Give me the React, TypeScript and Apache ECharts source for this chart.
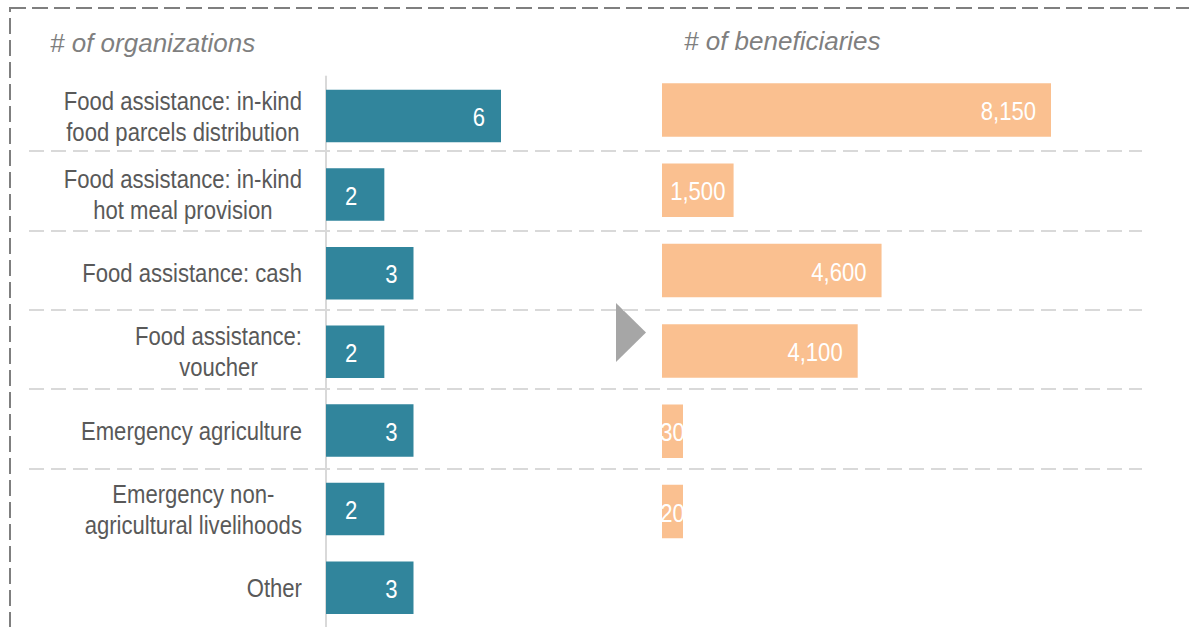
import { useEffect, useRef } from 'react';
import * as echarts from 'echarts';

const categories = [
  'Food assistance: in-kind\nfood parcels distribution',
  'Food assistance: in-kind\nhot meal provision',
  'Food assistance: cash',
  'Food assistance:\nvoucher',
  'Emergency agriculture',
  'Emergency non-\nagricultural livelihoods',
  'Other',
];
const organizations = [6, 2, 3, 2, 3, 2, 3];
const beneficiaryCategories = categories.slice(0, 6);
const beneficiaries = [8150, 1500, 4600, 4100, 30, 20];
const titleLeft = '# of organizations';
const titleRight = '# of beneficiaries';

const FONT = '"Liberation Sans", Arial, sans-serif';
const NARROW_SCALE = 0.85;
const TEAL = '#31859C';
const ORANGE = '#FAC090';

export default function App() {
  const ref = useRef<HTMLDivElement>(null);
  useEffect(() => {
    if (!ref.current) return;
    const chart = echarts.init(ref.current, undefined, { renderer: 'svg' });
    const fmt = (v: number) => v.toLocaleString('en-US');

    const tealBars = (params: any, api: any) => {
      const v = api.value(0);
      const idx = api.value(1);
      const start = api.coord([0, idx]);
      const end = api.coord([v, idx]);
      const h = 52.5;
      const lx = v > 2 ? end[0] - 16 : end[0] - 27;
      return {
        type: 'group',
        children: [
          { type: 'rect', shape: { x: start[0], y: start[1] - h / 2, width: end[0] - start[0], height: h }, style: { fill: TEAL } },
          {
            type: 'text', x: lx, y: start[1] + 1, scaleX: NARROW_SCALE,
            style: { text: String(v), fill: '#ffffff', fontSize: 26, fontFamily: FONT, align: 'right', verticalAlign: 'middle' },
          },
        ],
      };
    };

    const orangeBars = (params: any, api: any) => {
      const v = api.value(0);
      const idx = api.value(1);
      const start = api.coord([0, idx]);
      const end = api.coord([v, idx]);
      const h = 53.5;
      const w = Math.max(end[0] - start[0], 21);
      const inside = v >= 4000;
      return {
        type: 'group',
        children: [
          { type: 'rect', shape: { x: start[0], y: start[1] - h / 2, width: w, height: h }, style: { fill: ORANGE } },
          {
            type: 'text', x: inside ? start[0] + w - 15 : start[0] + w / 2, y: start[1] + 1, scaleX: NARROW_SCALE,
            style: { text: fmt(v), fill: '#ffffff', fontSize: 26, fontFamily: FONT, align: inside ? 'right' : 'center', verticalAlign: 'middle' },
          },
        ],
      };
    };

    const catLabels = (params: any, api: any) => {
      const idx = api.value(1);
      const p = api.coord([0, idx]);
      const text = categories[idx].split('\n').map((l) => `{c|${l}}`).join('\n');
      return {
        type: 'text', x: p[0] - 24, y: p[1], scaleX: NARROW_SCALE,
        style: {
          text,
          fill: '#595959', fontSize: 26, fontFamily: FONT, lineHeight: 31,
          align: 'right', verticalAlign: 'middle',
          rich: { c: { align: 'center', fill: '#595959', fontSize: 26, fontFamily: FONT, lineHeight: 31 } },
        },
      };
    };

    chart.setOption({
      animation: false,
      backgroundColor: '#ffffff',
      grid: [
        { left: 29, top: 71.8, width: 1113, height: 563.5 },
        { left: 326, top: 76.6, width: 175, height: 553.9 },
        { left: 662, top: 69.85, width: 389, height: 481.8 },
      ],
      xAxis: [
        { gridIndex: 0, type: 'value', show: false },
        { gridIndex: 1, type: 'value', min: 0, max: 6, show: false },
        { gridIndex: 2, type: 'value', min: 0, max: 8150, show: false },
      ],
      yAxis: [
        {
          gridIndex: 0,
          type: 'category',
          data: categories,
          inverse: true,
          axisLine: { show: false },
          axisTick: { show: false },
          axisLabel: { show: false },
          splitLine: {
            show: true,
            lineStyle: {
              color: ['rgba(0,0,0,0)', '#d9d9d9', '#d9d9d9', '#d9d9d9', '#d9d9d9', '#d9d9d9', 'rgba(0,0,0,0)', 'rgba(0,0,0,0)'],
              width: 2,
              type: [15, 7],
            },
          },
        },
        {
          gridIndex: 1,
          type: 'category',
          data: categories,
          inverse: true,
          axisLine: { show: true, lineStyle: { color: '#d9d9d9', width: 2 } },
          axisTick: { show: false },
          splitLine: { show: false },
          axisLabel: { show: false },
        },
        {
          gridIndex: 2,
          type: 'category',
          data: beneficiaryCategories,
          inverse: true,
          show: false,
        },
      ],
      series: [
        {
          type: 'custom',
          name: 'labels',
          xAxisIndex: 1,
          yAxisIndex: 1,
          silent: true,
          clip: false,
          encode: { x: 0, y: 1 },
          data: categories.map((c, i) => [0, i]),
          renderItem: catLabels,
        },
        {
          type: 'custom',
          name: '# of organizations',
          xAxisIndex: 1,
          yAxisIndex: 1,
          clip: false,
          encode: { x: 0, y: 1 },
          data: organizations.map((v, i) => [v, i]),
          renderItem: tealBars,
        },
        {
          type: 'custom',
          name: '# of beneficiaries',
          xAxisIndex: 2,
          yAxisIndex: 2,
          clip: false,
          encode: { x: 0, y: 1 },
          data: beneficiaries.map((v, i) => [v, i]),
          renderItem: orangeBars,
        },
      ],
      graphic: [
        {
          type: 'rect',
          silent: true,
          shape: { x: 10, y: 8, width: 1260, height: 700 },
          style: { fill: 'none', stroke: '#7f7f7f', lineWidth: 2, lineDash: [16, 6] },
        },
        {
          type: 'polygon',
          silent: true,
          shape: { points: [[616, 303], [646, 332.5], [616, 362]] },
          style: { fill: '#a6a6a6' },
        },
        {
          type: 'text',
          x: 50,
          y: 43,
          style: { text: titleLeft, font: 'italic 26px "Liberation Sans", Arial, sans-serif', fill: '#7f7f7f', verticalAlign: 'middle' },
        },
        {
          type: 'text',
          x: 684,
          y: 41,
          style: { text: titleRight, font: 'italic 26px "Liberation Sans", Arial, sans-serif', fill: '#7f7f7f', verticalAlign: 'middle' },
        },
      ],
    });
    return () => chart.dispose();
  }, []);
  return <div ref={ref} style={{ position: 'absolute', left: 0, top: 0, width: 1189, height: 627 }} />;
}
